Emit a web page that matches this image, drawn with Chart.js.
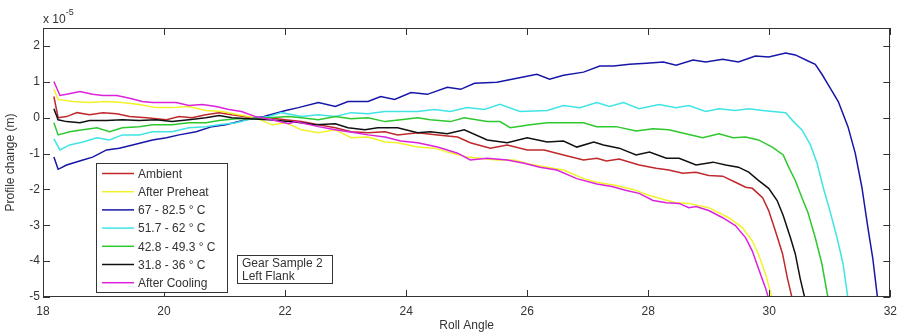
<!DOCTYPE html>
<html>
<head>
<meta charset="utf-8">
<script src="https://cdn.jsdelivr.net/npm/chart.js@4.4.1/dist/chart.umd.min.js"></script>
<style>
  html, body { margin: 0; padding: 0; background: #fff; }
</style>
</head>
<body>
<canvas id="chart" width="904" height="336"></canvas>
<script>
// profile change values are in units of 1e-5 m (shown as "x 10^-5" on the axis)
const ambient = [[18.18,0.59],[18.25,0.00],[18.39,0.03],[18.56,0.14],[18.77,0.08],[18.99,0.14],[19.22,0.11],[19.43,0.03],[19.71,0.00],[20.04,-0.06],[20.25,0.03],[20.46,0.00],[20.69,0.08],[20.91,0.14],[21.12,0.08],[21.45,0.00],[21.73,0.00],[22.00,-0.06],[22.27,-0.11],[22.55,-0.20],[22.83,-0.28],[23.09,-0.39],[23.37,-0.42],[23.65,-0.39],[23.86,-0.48],[24.19,-0.42],[24.52,-0.48],[24.85,-0.54],[25.06,-0.70],[25.39,-0.85],[25.67,-0.76],[26.00,-0.90],[26.28,-0.90],[26.60,-1.04],[26.93,-1.18],[27.15,-1.13],[27.31,-1.21],[27.52,-1.15],[27.85,-1.32],[28.13,-1.41],[28.34,-1.46],[28.57,-1.55],[28.79,-1.52],[29.00,-1.61],[29.23,-1.63],[29.44,-1.80],[29.61,-1.94],[29.72,-1.97],[29.89,-2.23],[29.99,-2.59],[30.10,-3.15],[30.22,-3.80],[30.30,-4.48],[30.38,-5.05]];
const afterPreheat = [[18.18,0.79],[18.25,0.51],[18.49,0.45],[18.77,0.42],[19.05,0.45],[19.31,0.42],[19.59,0.37],[19.87,0.28],[20.13,0.28],[20.41,0.31],[20.69,0.20],[20.96,0.17],[21.23,0.08],[21.51,0.00],[21.78,-0.20],[22.01,-0.14],[22.27,-0.34],[22.55,-0.42],[22.83,-0.34],[23.09,-0.56],[23.37,-0.54],[23.65,-0.68],[23.86,-0.70],[24.19,-0.82],[24.47,-0.85],[24.68,-0.96],[25.01,-1.10],[25.22,-1.13],[25.50,-1.18],[25.78,-1.18],[26.05,-1.30],[26.33,-1.38],[26.60,-1.46],[26.93,-1.70],[27.15,-1.80],[27.47,-1.89],[27.75,-2.00],[28.02,-2.17],[28.30,-2.30],[28.46,-2.37],[28.67,-2.39],[29.00,-2.51],[29.33,-2.79],[29.56,-3.07],[29.72,-3.44],[29.82,-3.80],[29.94,-4.37],[30.05,-5.05]];
const temp67 = [[18.18,-1.10],[18.25,-1.44],[18.39,-1.32],[18.66,-1.18],[18.82,-1.10],[19.05,-0.90],[19.26,-0.85],[19.48,-0.76],[19.81,-0.62],[20.04,-0.56],[20.25,-0.48],[20.53,-0.39],[20.79,-0.25],[21.02,-0.20],[21.35,-0.06],[21.65,0.03],[22.01,0.20],[22.22,0.28],[22.55,0.42],[22.83,0.31],[23.04,0.45],[23.37,0.45],[23.58,0.59],[23.81,0.51],[24.08,0.70],[24.35,0.65],[24.68,0.85],[24.90,0.79],[25.13,0.96],[25.50,0.99],[25.83,1.10],[26.16,1.21],[26.37,1.07],[26.60,1.18],[26.93,1.27],[27.20,1.44],[27.43,1.44],[27.69,1.49],[27.97,1.52],[28.25,1.55],[28.46,1.46],[28.74,1.61],[28.95,1.55],[29.23,1.63],[29.49,1.55],[29.77,1.72],[29.99,1.69],[30.27,1.80],[30.43,1.75],[30.64,1.58],[30.76,1.49],[30.87,1.21],[30.97,0.93],[31.14,0.45],[31.30,-0.25],[31.42,-0.99],[31.53,-1.94],[31.63,-3.07],[31.71,-3.92],[31.79,-5.05]];
const temp51 = [[18.18,-0.59],[18.28,-0.90],[18.44,-0.76],[18.66,-0.68],[18.89,-0.56],[19.10,-0.62],[19.31,-0.48],[19.59,-0.48],[19.81,-0.39],[20.13,-0.39],[20.41,-0.28],[20.69,-0.25],[20.91,-0.20],[21.19,-0.14],[21.45,-0.03],[21.73,0.03],[21.94,0.14],[22.27,0.03],[22.55,0.08],[22.83,0.03],[23.09,0.14],[23.37,0.11],[23.65,0.17],[23.91,0.17],[24.19,0.17],[24.47,0.23],[24.73,0.17],[25.01,0.28],[25.29,0.23],[25.55,0.37],[25.88,0.17],[26.33,0.20],[26.60,0.34],[26.87,0.28],[27.15,0.42],[27.36,0.31],[27.59,0.42],[27.85,0.25],[28.18,0.37],[28.46,0.28],[28.67,0.34],[28.95,0.17],[29.17,0.25],[29.44,0.20],[29.66,0.25],[29.89,0.20],[30.27,0.14],[30.40,-0.11],[30.54,-0.34],[30.68,-0.76],[30.79,-1.27],[30.89,-1.94],[31.00,-2.59],[31.12,-3.35],[31.22,-4.08],[31.30,-5.05]];
const temp42 = [[18.18,-0.14],[18.25,-0.48],[18.44,-0.39],[18.66,-0.34],[18.89,-0.28],[19.10,-0.39],[19.31,-0.28],[19.59,-0.25],[19.81,-0.20],[20.13,-0.20],[20.41,-0.14],[20.69,-0.14],[20.91,-0.08],[21.19,-0.03],[21.45,-0.03],[21.73,0.00],[22.06,0.03],[22.27,0.00],[22.55,-0.06],[22.83,0.03],[23.09,-0.03],[23.37,0.00],[23.65,-0.11],[23.91,-0.06],[24.19,0.00],[24.40,-0.06],[24.73,-0.11],[24.96,0.00],[25.34,-0.11],[25.55,-0.11],[25.72,-0.28],[26.05,-0.20],[26.33,-0.14],[26.60,-0.14],[26.93,-0.14],[27.15,-0.25],[27.47,-0.25],[27.80,-0.37],[28.08,-0.31],[28.34,-0.34],[28.62,-0.45],[28.90,-0.56],[29.17,-0.45],[29.40,-0.56],[29.61,-0.54],[29.82,-0.62],[30.05,-0.82],[30.23,-1.04],[30.32,-1.38],[30.43,-1.75],[30.54,-2.23],[30.64,-2.65],[30.76,-3.35],[30.87,-4.08],[30.96,-4.93],[30.98,-5.05]];
const temp31 = [[18.18,0.25],[18.25,-0.06],[18.39,-0.11],[18.61,-0.14],[18.77,-0.08],[19.05,-0.08],[19.31,-0.06],[19.59,-0.08],[19.87,-0.06],[20.13,-0.11],[20.41,-0.06],[20.69,0.00],[20.91,0.06],[21.12,0.00],[21.40,-0.03],[21.73,-0.06],[22.06,-0.11],[22.27,-0.14],[22.50,-0.20],[22.83,-0.17],[23.04,-0.28],[23.32,-0.34],[23.53,-0.28],[23.86,-0.28],[24.19,-0.42],[24.40,-0.39],[24.68,-0.45],[24.96,-0.34],[25.34,-0.62],[25.67,-0.70],[26.00,-0.56],[26.33,-0.68],[26.60,-0.65],[26.82,-0.82],[27.10,-0.68],[27.26,-0.76],[27.52,-0.85],[27.80,-1.04],[28.02,-0.96],[28.30,-1.13],[28.51,-1.13],[28.79,-1.32],[29.07,-1.24],[29.28,-1.32],[29.49,-1.38],[29.66,-1.52],[29.82,-1.75],[29.99,-1.97],[30.13,-2.31],[30.23,-2.73],[30.35,-3.35],[30.43,-3.80],[30.51,-4.48],[30.59,-5.05]];
const afterCooling = [[18.18,1.01],[18.28,0.62],[18.39,0.65],[18.61,0.73],[18.82,0.65],[18.99,0.62],[19.22,0.62],[19.43,0.54],[19.64,0.45],[19.81,0.42],[20.04,0.42],[20.20,0.42],[20.41,0.34],[20.63,0.37],[20.86,0.31],[21.07,0.23],[21.28,0.17],[21.51,0.03],[21.78,-0.06],[22.06,-0.17],[22.17,-0.11],[22.55,-0.25],[22.83,-0.34],[23.16,-0.42],[23.37,-0.48],[23.65,-0.54],[23.91,-0.65],[24.19,-0.70],[24.52,-0.82],[24.85,-0.99],[25.06,-1.18],[25.34,-1.13],[25.67,-1.18],[25.95,-1.27],[26.21,-1.38],[26.49,-1.46],[26.82,-1.70],[27.15,-1.85],[27.40,-1.92],[27.64,-2.03],[27.85,-2.11],[28.08,-2.31],[28.30,-2.37],[28.51,-2.39],[28.67,-2.51],[28.79,-2.48],[29.00,-2.59],[29.23,-2.79],[29.44,-3.01],[29.61,-3.35],[29.72,-3.72],[29.82,-4.20],[29.94,-4.76],[29.99,-5.05]];

const seriesNames = ['Ambient', 'After Preheat', '67 - 82.5 ° C', '51.7 - 62 ° C', '42.8 - 49.3 ° C', '31.8 - 36 ° C', 'After Cooling'];
const seriesData = [ambient, afterPreheat, temp67, temp51, temp42, temp31, afterCooling];
const seriesColors = ['#c0282c', '#f2f22a', '#1616a8', '#40e4e4', '#2ec82e', '#111111', '#dc22dc'];
const xTicks = [18, 20, 22, 24, 26, 28, 30, 32];
const yTicks = [-5, -4, -3, -2, -1, 0, 1, 2];
const noteLines = ['Gear Sample 2', 'Left Flank'];

const FONT = "'Liberation Sans', Arial, sans-serif";
const INK = '#333333';
Chart.defaults.font.family = FONT;
Chart.defaults.font.size = 12;
Chart.defaults.color = INK;

// box, inward ticks, exponent, legend and note, drawn MATLAB style
const matlabFrame = {
  id: 'matlabFrame',
  afterDatasetsDraw(chart) {
    const { ctx, chartArea: a, scales: { x, y } } = chart;
    ctx.save();
    ctx.strokeStyle = INK;
    ctx.lineWidth = 1;
    ctx.strokeRect(Math.round(a.left) + 0.5, Math.round(a.top) + 0.5, Math.round(a.width) - 1, Math.round(a.height) - 1);
    ctx.beginPath();
    xTicks.forEach(v => {
      const px = Math.round(x.getPixelForValue(v)) + 0.5;
      ctx.moveTo(px, a.bottom); ctx.lineTo(px, a.bottom - 7);
      ctx.moveTo(px, a.top); ctx.lineTo(px, a.top + 7);
    });
    yTicks.forEach(v => {
      const py = Math.round(y.getPixelForValue(v)) + 0.5;
      ctx.moveTo(a.left, py); ctx.lineTo(a.left + 7, py);
      ctx.moveTo(a.right, py); ctx.lineTo(a.right - 7, py);
    });
    ctx.stroke();

    // exponent label
    ctx.fillStyle = INK;
    ctx.textBaseline = 'alphabetic';
    ctx.textAlign = 'left';
    ctx.font = '12px ' + FONT;
    ctx.fillText('x 10', a.left, a.top - 5);
    const w = ctx.measureText('x 10').width;
    ctx.font = '9px ' + FONT;
    ctx.fillText('-5', a.left + w, a.top - 13);

    // legend
    const lx = 96, ly = 163, lw = 131, lh = 129;
    ctx.fillStyle = '#fff';
    ctx.fillRect(lx, ly, lw, lh);
    ctx.strokeRect(lx + 0.5, ly + 0.5, lw, lh);
    ctx.font = '12px ' + FONT;
    ctx.textBaseline = 'middle';
    chart.data.datasets.forEach((ds, i) => {
      const ry = ly + 10.5 + i * 18.2;
      ctx.strokeStyle = ds.borderColor;
      ctx.lineWidth = 1.5;
      ctx.beginPath();
      ctx.moveTo(lx + 6, ry); ctx.lineTo(lx + 38, ry);
      ctx.stroke();
      ctx.fillStyle = INK;
      ctx.fillText(ds.label, lx + 42, ry + 1);
    });

    // note box
    const nx = 237, ny = 255, nw = 95, nh = 28;
    ctx.fillStyle = '#fff';
    ctx.fillRect(nx, ny, nw, nh);
    ctx.strokeStyle = INK;
    ctx.lineWidth = 1;
    ctx.strokeRect(nx + 0.5, ny + 0.5, nw, nh);
    ctx.fillStyle = INK;
    noteLines.forEach((t, i) => ctx.fillText(t, nx + 5, ny + 9 + i * 12.5));
    ctx.restore();
  }
};

const datasets = seriesData.map((pts, i) => ({
  label: seriesNames[i],
  data: pts.map(p => ({ x: p[0], y: p[1] })),
  borderColor: seriesColors[i],
  backgroundColor: seriesColors[i],
  borderWidth: 1.5,
  pointRadius: 0,
  tension: 0,
  fill: false,
  order: seriesData.length - i
}));

new Chart(document.getElementById('chart'), {
  type: 'line',
  data: { datasets },
  plugins: [matlabFrame],
  options: {
    responsive: false,
    animation: false,
    layout: { padding: { top: 28, right: 8, left: 0, bottom: 0 } },
    plugins: { legend: { display: false }, tooltip: { enabled: false } },
    scales: {
      x: {
        type: 'linear',
        min: 18,
        max: 32,
        afterFit: s => { s.height = 39; },
        afterBuildTicks: s => { s.ticks = xTicks.map(v => ({ value: v })); },
        ticks: { padding: 7, color: INK, maxRotation: 0, autoSkip: false },
        grid: { display: false, drawTicks: false },
        border: { display: false },
        title: { display: true, text: 'Roll Angle', color: INK, padding: { top: 0, bottom: 3 } }
      },
      y: {
        type: 'linear',
        min: -5,
        max: 2.5,
        afterFit: s => { s.width = 43; },
        afterBuildTicks: s => { s.ticks = yTicks.map(v => ({ value: v })); },
        ticks: { padding: 3, color: INK },
        grid: { display: false, drawTicks: false },
        border: { display: false },
        title: { display: true, text: 'Profile change (m)', color: INK, padding: { top: 3, bottom: 0 } }
      }
    }
  }
});
</script>
</body>
</html>
